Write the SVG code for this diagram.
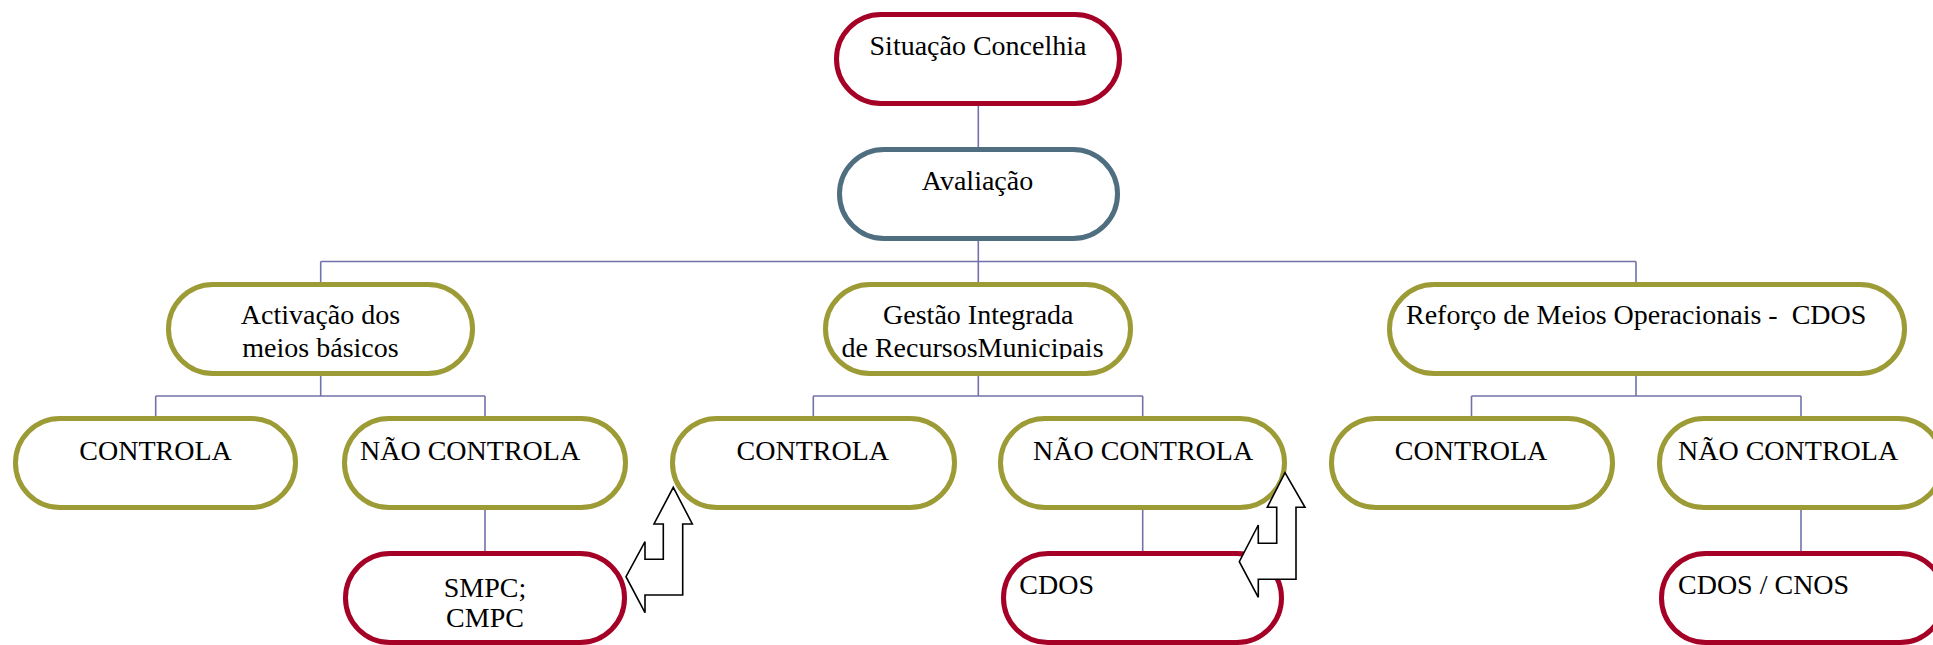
<svg xmlns="http://www.w3.org/2000/svg" width="1933" height="645" viewBox="0 0 1933 645">
<style>
.box{fill:#fff;stroke-width:5}
.red{stroke:#A50026}
.olive{stroke:#9C9B36}
.blue{stroke:#4F6E80}
.t{font-family:"Liberation Serif","Times New Roman",serif;font-size:28px;fill:#000;white-space:pre}
.c{text-anchor:middle}
.conn line{stroke:#7272AA;stroke-width:1.6}
.arrow{fill:#fff;stroke:#000;stroke-width:1.6;stroke-linejoin:miter}
</style>
<defs>
<clipPath id="clipG"><rect x="826" y="285" width="305" height="74"/></clipPath>
</defs>
<rect width="1933" height="645" fill="#fff"/>
<g id="connectors" class="conn">
<line x1="978.3" y1="104" x2="978.3" y2="149"/>
<line x1="978.3" y1="239" x2="978.3" y2="284"/>
<line x1="320.7" y1="261.5" x2="1636" y2="261.5"/>
<line x1="320.7" y1="261.5" x2="320.7" y2="284"/>
<line x1="1636" y1="261.5" x2="1636" y2="284"/>
<line x1="320.7" y1="374" x2="320.7" y2="396"/>
<line x1="155.7" y1="396" x2="485" y2="396"/>
<line x1="155.7" y1="396" x2="155.7" y2="418"/>
<line x1="485" y1="396" x2="485" y2="418"/>
<line x1="978.3" y1="374" x2="978.3" y2="396"/>
<line x1="813.3" y1="396" x2="1142.7" y2="396"/>
<line x1="813.3" y1="396" x2="813.3" y2="418"/>
<line x1="1142.7" y1="396" x2="1142.7" y2="418"/>
<line x1="1636" y1="374" x2="1636" y2="396"/>
<line x1="1471.5" y1="396" x2="1801" y2="396"/>
<line x1="1471.5" y1="396" x2="1471.5" y2="418"/>
<line x1="1801" y1="396" x2="1801" y2="418"/>
<line x1="485" y1="508" x2="485" y2="553"/>
<line x1="1142.7" y1="508" x2="1142.7" y2="553"/>
<line x1="1801" y1="508" x2="1801" y2="553"/>
</g>
<g id="n-situacao">
<rect class="box red" x="836.5" y="14.5" width="283" height="89" rx="44.5"/>
<text class="t c" x="978" y="55">Situação Concelhia</text>
</g>
<g id="n-avaliacao">
<rect class="box blue" x="839.5" y="149.5" width="278" height="89" rx="44.5"/>
<text class="t c" x="977.5" y="190">Avaliação</text>
</g>
<g id="n-activacao">
<rect class="box olive" x="168.5" y="284.5" width="304" height="89" rx="44.5"/>
<text class="t c" x="320.5" y="324">Activação dos</text>
<text class="t c" x="320.5" y="357">meios básicos</text>
</g>
<g id="n-gestao">
<rect class="box olive" x="825.5" y="284.5" width="305" height="89" rx="44.5"/>
<g clip-path="url(#clipG)">
<text class="t c" x="978.3" y="324">Gestão Integrada</text>
<text class="t c" x="972.5" y="357">de RecursosMunicipais</text>
</g>
</g>
<g id="n-reforco">
<rect class="box olive" x="1389.5" y="284.5" width="515" height="89" rx="44.5"/>
<text class="t" x="1406" y="324">Reforço de Meios Operacionais -  CDOS</text>
</g>
<g id="n-controla-1">
<rect class="box olive" x="15.5" y="418.5" width="280" height="89" rx="44.5"/>
<text class="t c" x="155.5" y="460">CONTROLA</text>
</g>
<g id="n-naocontrola-1">
<rect class="box olive" x="344.5" y="418.5" width="281" height="89" rx="44.5"/>
<text class="t" x="360" y="460">NÃO CONTROLA</text>
</g>
<g id="n-controla-2">
<rect class="box olive" x="672.5" y="418.5" width="282" height="89" rx="44.5"/>
<text class="t c" x="812.8" y="460">CONTROLA</text>
</g>
<g id="n-naocontrola-2">
<rect class="box olive" x="1000.5" y="418.5" width="284" height="89" rx="44.5"/>
<text class="t" x="1033" y="460">NÃO CONTROLA</text>
</g>
<g id="n-controla-3">
<rect class="box olive" x="1331.5" y="418.5" width="281" height="89" rx="44.5"/>
<text class="t c" x="1471" y="460">CONTROLA</text>
</g>
<g id="n-naocontrola-3">
<rect class="box olive" x="1659.5" y="418.5" width="283" height="89" rx="44.5"/>
<text class="t" x="1678" y="460">NÃO CONTROLA</text>
</g>
<g id="n-smpc">
<rect class="box red" x="345.5" y="553.5" width="279" height="89" rx="44.5"/>
<text class="t c" x="485" y="596.7">SMPC;</text>
<text class="t c" x="485" y="626.7">CMPC</text>
</g>
<g id="n-cdos">
<rect class="box red" x="1003.5" y="553.5" width="278" height="89" rx="44.5"/>
<text class="t" x="1019.3" y="594">CDOS</text>
</g>
<g id="n-cdoscnos">
<rect class="box red" x="1661.5" y="553.5" width="283" height="89" rx="44.5"/>
<text class="t" x="1678" y="594">CDOS / CNOS</text>
</g>
<g id="arrow-1">
<polygon class="arrow" points="673.3,487.3 692.3,524 682.7,524 682.7,595 645,595 645,612.7 626,576.7 645,541.7 645,559.3 663.3,559.3 663.3,524 654,524"/>
</g>
<g id="arrow-2">
<polygon class="arrow" points="1285,472.7 1305,507.3 1296,507.3 1296,579.3 1258.3,579.3 1258.3,597.3 1239.3,561.7 1258.3,525 1258.3,543.3 1276.7,543.3 1276.7,507.3 1267.3,507.3"/>
</g>
</svg>
